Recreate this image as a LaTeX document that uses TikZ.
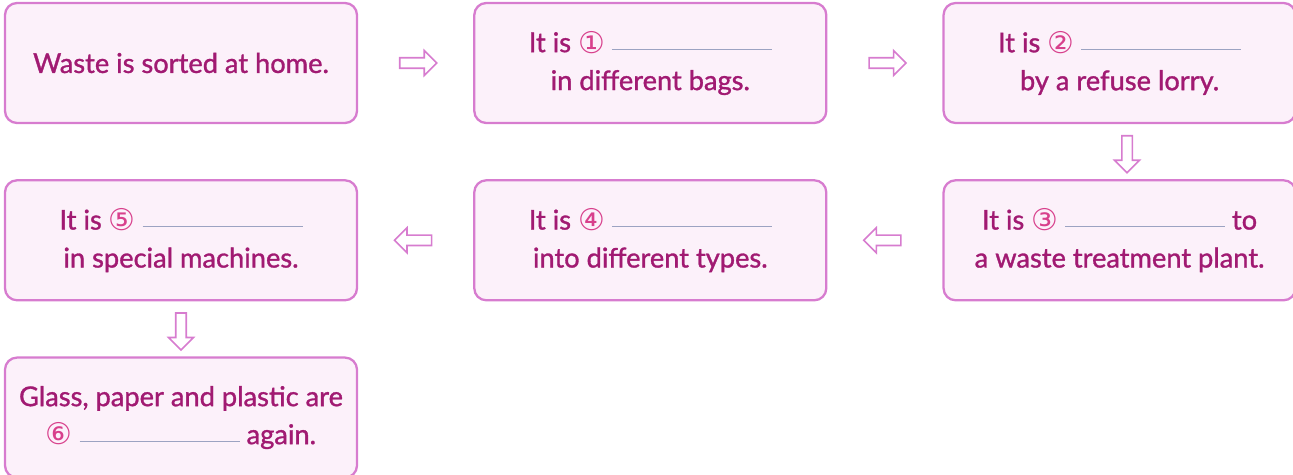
\documentclass[tikz,border=0pt]{standalone}
\usepackage{fontspec}
\setmainfont{Lato}[FakeBold=1.2]
\newfontfamily\circfont{DejaVu Sans}
\usetikzlibrary{positioning,calc,shapes.arrows}

\definecolor{boxfill}{HTML}{FCF1FA}
\definecolor{boxline}{HTML}{D77CCF}
\definecolor{stepink}{HTML}{A11A72}
\definecolor{numpink}{HTML}{D8408C}
\definecolor{blankline}{HTML}{9CA3C2}

\newcommand{\num}[1]{{\circfont\fontsize{17}{17}\selectfont\color{numpink}\raisebox{-0.5pt}{#1}}}
\newcommand{\blank}{\textcolor{blankline}{\rule[1.5pt]{3.2cm}{0.5pt}}}

\tikzset{
  stepbox/.style={draw=boxline, line width=1.3pt, fill=boxfill, rounded corners=0.24cm,
    minimum width=7.04cm, minimum height=2.4cm, align=center, text=stepink,
    font=\fontsize{15.5}{21.6}\selectfont},
  flowarrow/.style={single arrow, draw=boxline, line width=0.9pt, fill=white,
    minimum height=0.74cm, minimum width=0.5cm, inner sep=0.07cm,
    single arrow head extend=0.12cm}
}

\begin{document}
\begin{tikzpicture}[node distance=1.1cm and 2.3cm]
  \useasboundingbox (0,0) rectangle (25.86,-9.5);
  % steps
  \node[stepbox] (sort) at (3.62,-1.26) {Waste is sorted at home.};
  \node[stepbox, right=of sort] (bags) {It is \num{①} \blank\\in different bags.};
  \node[stepbox, right=of bags] (lorry) {It is \num{②} \blank\\by a refuse lorry.};
  \node[stepbox, below=of lorry] (plant) {It is \num{③} \blank{} to\\a waste treatment plant.};
  \node[stepbox, below=of bags] (types) {It is \num{④} \blank\\into different types.};
  \node[stepbox, below=of sort] (machines) {It is \num{⑤} \blank\\in special machines.};
  \node[stepbox, below=of machines] (again) {Glass, paper and plastic are\\\num{⑥} \blank{} again.};
  % arrows
  \node[flowarrow] (a1) at ($(sort.east)!0.5!(bags.west)$) {};
  \node[flowarrow] (a2) at ($(bags.east)!0.5!(lorry.west)$) {};
  \node[flowarrow, shape border rotate=270] (a3) at ($(lorry.south)!0.5!(plant.north)+(0.15,0)$) {};
  \node[flowarrow, shape border rotate=180] (a4) at ($(plant.west)!0.5!(types.east)$) {};
  \node[flowarrow, shape border rotate=180] (a5) at ($(types.west)!0.5!(machines.east)$) {};
  \node[flowarrow, shape border rotate=270] (a6) at ($(machines.south)!0.5!(again.north)$) {};
\end{tikzpicture}
\end{document}
